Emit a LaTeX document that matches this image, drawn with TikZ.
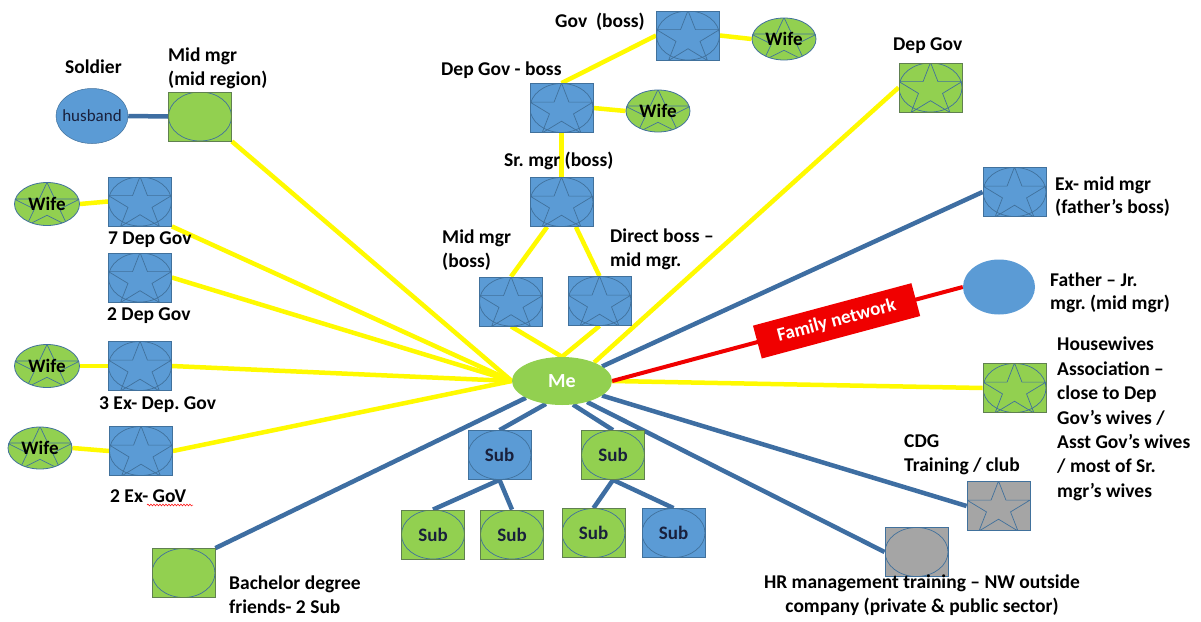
\documentclass[tikz,border=0pt]{standalone}
\usepackage{fontspec}
\setmainfont{Carlito}
\usetikzlibrary{shapes.geometric,backgrounds,decorations.pathmorphing}
\frenchspacing

\definecolor{yel}{RGB}{255,250,0}
\definecolor{steel}{RGB}{62,110,162}
\definecolor{bfill}{RGB}{91,155,213}
\definecolor{gfill}{RGB}{146,208,80}
\definecolor{grfill}{RGB}{165,165,165}
\definecolor{bline}{RGB}{65,113,156}
\definecolor{gline}{RGB}{96,128,80}
\definecolor{navy}{RGB}{25,32,60}
\definecolor{tagred}{RGB}{240,0,0}

% oval inscribed in a box
\newcommand\bxoval{\draw[bline, line width=0.7pt] (path picture bounding box.center) ellipse [x radius=31.5pt, y radius=24.5pt];}
% point offset from the centre of the shape being decorated
\newcommand\stpt[2]{([shift={({#1},{#2})}]path picture bounding box.center)}
% five-pointed star, half width #1, half height #2 (in pt)
\newcommand\bxstar[2]{\draw[bline, line width=0.7pt]
  \stpt{0pt}{#2pt} -- \stpt{-0.236*#1pt}{0.236*#2pt} -- \stpt{-#1pt}{0.236*#2pt}
  -- \stpt{-0.382*#1pt}{-0.236*#2pt} -- \stpt{-0.618*#1pt}{-#2pt} -- \stpt{0pt}{-0.528*#2pt}
  -- \stpt{0.618*#1pt}{-#2pt} -- \stpt{0.382*#1pt}{-0.236*#2pt} -- \stpt{#1pt}{0.236*#2pt}
  -- \stpt{0.236*#1pt}{0.236*#2pt} -- cycle;}

\begin{document}
\begin{tikzpicture}[x=1pt,y=-1pt,
  sqb/.style={rectangle, minimum width=63pt, minimum height=49pt, inner sep=0pt, line width=0.8pt},
  bluebox/.style={sqb, fill=bfill, draw=bline},
  greenbox/.style={sqb, fill=gfill, draw=gline},
  greybox/.style={sqb, fill=grfill, draw=bline},
  withoval/.style={path picture={\bxoval}},
  ovalstar/.style={path picture={\bxoval\bxstar{31.5}{25}}},
  staronly/.style={path picture={\bxstar{31.5}{25}}},
  wife/.style={ellipse, minimum width=65pt, minimum height=43pt, inner sep=0pt, fill=gfill, draw=bline,
    line width=0.8pt, font=\bfseries\fontsize{19}{19}\selectfont, path picture={\bxstar{33}{21.5}}},
  subtxt/.style={font=\bfseries\fontsize{19}{19}\selectfont, text=navy},
  lbl/.style={font=\bfseries\fontsize{19.5}{23.5}\selectfont, align=left, inner sep=0pt, anchor=west},
  yline/.style={draw=yel, line width=4.5pt},
  sline/.style={draw=steel, line width=4.5pt},
  rline/.style={draw=tagred, line width=4pt},
  famtag/.style={fill=tagred, text=white, font=\bfseries\fontsize{19}{19}\selectfont,
    minimum width=164pt, minimum height=34pt, inner sep=0pt}
]
\useasboundingbox (0,0) rectangle (1201,621);

% ---- central person ----
\node[ellipse, fill=gfill, minimum width=100pt, minimum height=48pt, inner sep=0pt,
  font=\bfseries\fontsize{20}{20}\selectfont, text=white] (me) at (562,381) {Me};

% ---- left column ----
\node[ellipse, fill=bfill, draw=bline, line width=0.5pt, minimum width=72pt, minimum height=55pt, inner sep=0pt,
  label={[font=\fontsize{17}{17}\selectfont, text=navy]center:husband}] (hus) at (92,116) {};
\node[greenbox, withoval] (mmr) at (200,116.5) {};
\node[bluebox, ovalstar] (dg7) at (140,201.5) {};
\node[bluebox, ovalstar] (dg2) at (140,277.5) {};
\node[bluebox, ovalstar] (xdg3) at (140,366) {};
\node[bluebox, ovalstar] (xg2) at (141,451) {};
\node[greenbox, withoval] (bach) at (183.5,573) {};
\node[wife] (w7) at (47,204) {Wife};
\node[wife] (w3) at (47,366) {Wife};
\node[wife, minimum width=64pt, minimum height=42pt] (w2) at (40,448) {Wife};

\node[lbl] (lsold) at (65,67) {Soldier};
\node[lbl] (lmmr) at (168,68.5) {Mid mgr\\(mid region)};
\node[lbl] (ldg7) at (108,240) {7 Dep Gov};
\node[lbl] (ldg2) at (107,316) {2 Dep Gov};
\node[lbl] (lxdg3) at (99,405) {3 Ex- Dep. Gov};
\node[lbl] (lxg2) at (110,496) {2 Ex- GoV};
\draw[red, line width=0.5pt, decorate, decoration={snake, amplitude=0.9pt, segment length=3pt}] (147,505) -- (193,505);
\node[lbl] (lbach) at (229,594.5) {Bachelor degree\\friends- 2 Sub};

% ---- chain of bosses ----
\node[bluebox, ovalstar] (gov) at (688,35.5) {};
\node[bluebox, ovalstar] (dgb) at (561.5,108) {};
\node[bluebox, ovalstar] (sr) at (561.5,202) {};
\node[bluebox, ovalstar] (mmb) at (511,301.5) {};
\node[bluebox, ovalstar] (db) at (599.5,301) {};
\node[wife, minimum width=64pt, minimum height=42pt] (wg) at (784,39) {Wife};
\node[wife, minimum width=64pt, minimum height=42pt] (wd) at (658,111) {Wife};

\node[lbl] (lgov) at (555,22) {Gov~~(boss)};
\node[lbl] (ldgb) at (441,70) {Dep Gov - boss};
\node[lbl] (lsr) at (504,161) {Sr. mgr (boss)};
\node[lbl] (lmmb) at (442,250) {Mid mgr\\(boss)};
\node[lbl] (ldb) at (610,249.5) {Direct boss –\\mid mgr.};

% ---- subordinates ----
\node[bluebox, withoval, subtxt] (sub1) at (499.5,455) {Sub};
\node[greenbox, withoval, subtxt] (sub2) at (613,455) {Sub};
\node[greenbox, withoval, subtxt] (sb1) at (433,534.5) {Sub};
\node[greenbox, withoval, subtxt] (sb2) at (512,534.5) {Sub};
\node[greenbox, withoval, subtxt] (sb3) at (593.5,533) {Sub};
\node[bluebox, withoval, subtxt] (sb4) at (673.5,533) {Sub};

% ---- right side ----
\node[greenbox, ovalstar] (dgr) at (930.5,87.5) {};
\node[bluebox, ovalstar] (emm) at (1014.5,192) {};
\node[ellipse, fill=bfill, minimum width=72pt, minimum height=55pt, inner sep=0pt] (fa) at (999,287) {};
\node[greenbox, ovalstar] (hw) at (1014.5,388) {};
\node[greybox, staronly] (cdg) at (998.5,506) {};
\node[greybox, withoval] (hr) at (916.5,552) {};

\node[lbl] (ldgr) at (893,46) {Dep Gov};
\node[lbl] (lemm) at (1055,196.5) {Ex- mid mgr\\(father’s boss)};
\node[lbl] (lfa) at (1050,293) {Father – Jr.\\mgr. (mid mgr)};
\node[lbl, font=\bfseries\fontsize{19.5}{24.4}\selectfont] (lhw) at (1057,419)
  {Housewives\\Association –\\close to Dep\\Gov’s wives /\\Asst Gov’s wives\\/ most of Sr.\\mgr’s wives};
\node[lbl] (lcdg) at (904,455) {CDG\\Training / club};
\node[lbl, anchor=center, align=center] (lhr) at (922,595) {HR management training – NW outside\\company (private \& public sector)};

% ---- connectors ----
\begin{scope}[on background layer]
\fill[white] (0,0) rectangle (1201,621);
% yellow: work ties
\draw[yline] (mmr.south east) -- (me.west);
\draw[yline] (dg7.south east) -- (me.west);
\draw[yline] (dg2.east) -- (me.west);
\draw[yline] (xdg3.east) -- (me.west);
\draw[yline] (xg2.east) -- (me.west);
\draw[yline] (w7.east) -- (dg7.west);
\draw[yline] (w3.east) -- (xdg3.west);
\draw[yline] (w2.east) -- (xg2.west);
\draw[yline] (mmb.south) -- (me.north);
\draw[yline] (db.south) -- (me.north);
\draw[yline] (mmb.north) -- (sr.-120);
\draw[yline] (db.north) -- (sr.-60);
\draw[yline] (sr.north) -- (dgb.south);
\draw[yline] (dgb.north) -- (gov.west);
\draw[yline] (dgb.east) -- (wd.west);
\draw[yline] (gov.east) -- (wg.west);
\draw[yline] (me.30) -- (dgr.west);
\draw[yline] (me.east) -- (hw.west);
% blue: other ties
\draw[sline] (hus.east) -- (mmr.west);
\draw[sline] (me.20) -- (emm.west);
\draw[sline] (me.-20) -- (cdg.west);
\draw[sline] (me.-40) -- (hr.west);
\draw[sline] (bach.north east) -- (me.205);
\draw[sline] (me.235) -- (sub1.north);
\draw[sline] (me.295) -- (sub2.north);
\draw[sline] (sub1.south) -- (sb1.north);
\draw[sline] (sub1.south) -- (sb2.north);
\draw[sline] (sub2.south) -- (sb3.north);
\draw[sline] (sub2.south) -- (sb4.north);
% red: family
\draw[rline] (me.east) -- node[famtag, pos=0.64, sloped] (fam) {Family network} (fa.west);
\end{scope}
\end{tikzpicture}
\end{document}
